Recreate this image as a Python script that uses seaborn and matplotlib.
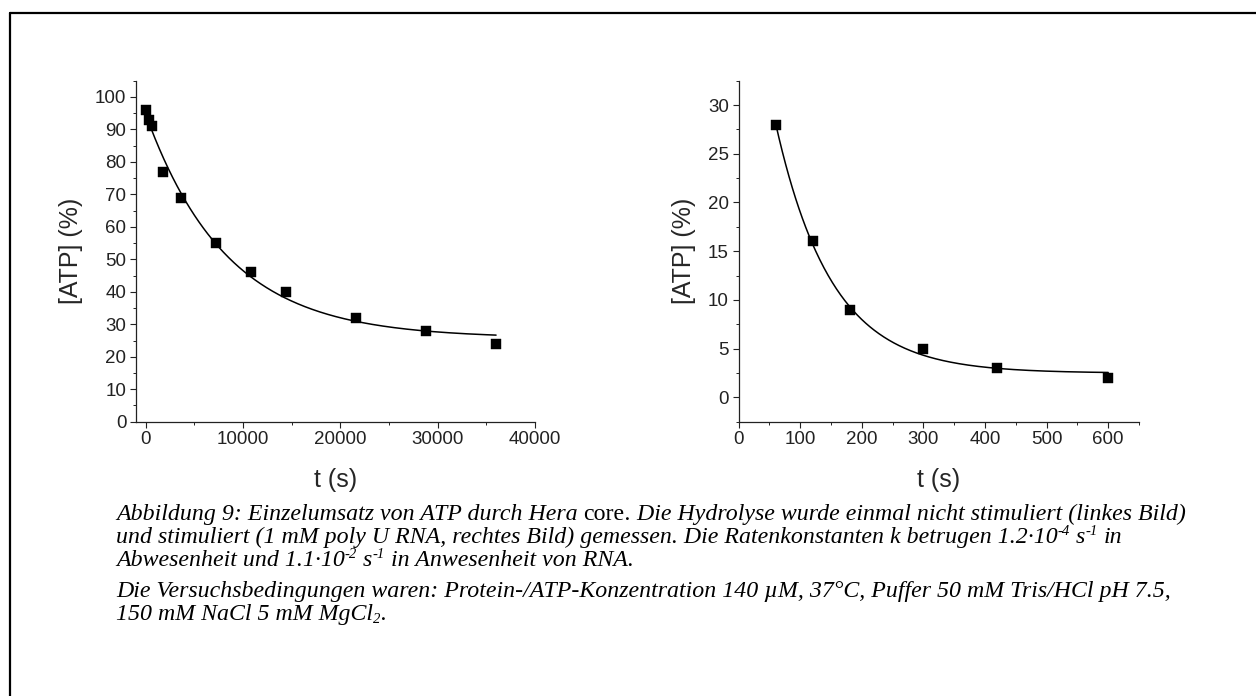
import numpy as np
import pandas as pd
import matplotlib
matplotlib.use("Agg")
import matplotlib.pyplot as plt
import seaborn as sns
from matplotlib.font_manager import FontProperties
from matplotlib.lines import Line2D
from matplotlib.ticker import MultipleLocator

# ---------------- data ----------------
t_left = [60, 300, 600, 1800, 3600, 7200, 10800, 14400, 21600, 28800, 36000]
atp_left = [96, 93, 91, 77, 69, 55, 46, 40, 32, 28, 24]
t_right = [60, 120, 180, 300, 420, 600]
atp_right = [28, 16, 9, 5, 3, 2]
k_left = 1.2e-4    # s^-1 (from caption)
k_right = 1.1e-2   # s^-1 (from caption)

xlabel = "t (s)"
ylabel = "[ATP] (%)"

W, H, DPI = 1256, 696, 100

sns.set_style("ticks")
plt.rcParams["font.family"] = ["Liberation Sans", "DejaVu Sans"]
plt.rcParams["axes.edgecolor"] = "#222222"
plt.rcParams["xtick.color"] = "#222222"
plt.rcParams["ytick.color"] = "#222222"
plt.rcParams["text.color"] = "#111111"

fig = plt.figure(figsize=(W / DPI, H / DPI), dpi=DPI)
fig.patch.set_facecolor("white")


def fit_curve(t, y, k):
    t = np.asarray(t, float)
    y = np.asarray(y, float)
    M = np.column_stack([np.exp(-k * t), np.ones_like(t)])
    (A, C), *_ = np.linalg.lstsq(M, y, rcond=None)
    tt = np.linspace(t.min(), t.max(), 400)
    return tt, A * np.exp(-k * tt) + C


def px_axes(x0, x1, ytop, ybot):
    return [x0 / W, 1 - ybot / H, (x1 - x0) / W, (ybot - ytop) / H]


def style_axes(ax, xlim, ylim, xmaj, xmin, ymaj, ymin):
    ax.set_xlim(*xlim)
    ax.set_ylim(*ylim)
    ax.xaxis.set_major_locator(MultipleLocator(xmaj))
    ax.xaxis.set_minor_locator(MultipleLocator(xmin))
    ax.yaxis.set_major_locator(MultipleLocator(ymaj))
    ax.yaxis.set_minor_locator(MultipleLocator(ymin))
    ax.tick_params(which="major", direction="out", length=4, width=0.8,
                   labelsize=13.5, pad=3)
    ax.tick_params(which="minor", direction="out", length=2.4, width=0.7)
    for s in ("top", "right"):
        ax.spines[s].set_visible(False)
    for s in ("left", "bottom"):
        ax.spines[s].set_linewidth(0.9)
    ax.set_xlabel(xlabel, fontsize=18, labelpad=14)
    ax.set_ylabel(ylabel, fontsize=18, labelpad=8.5)
    ax.set_facecolor("white")


panels = [
    (t_left, atp_left, k_left, px_axes(136, 535, 80.7, 421.7),
     (-1000, 40000), (0, 105), 10000, 5000, 10, 5),
    (t_right, atp_right, k_right, px_axes(738.7, 1139, 80.7, 421.7),
     (0, 650), (-2.5, 32.5), 100, 50, 5, 2.5),
]

for t, y, k, rect, xl, yl, xM, xm, yM, ym in panels:
    ax = fig.add_axes(rect)
    tt, yy = fit_curve(t, y, k)
    sns.lineplot(x=tt, y=yy, ax=ax, color="black", linewidth=1.1, zorder=2)
    df = pd.DataFrame({"t": t, "atp": y})
    sns.scatterplot(data=df, x="t", y="atp", ax=ax, marker="s", s=55,
                    color="black", edgecolor="black", linewidth=0.3, zorder=3)
    style_axes(ax, xl, yl, xM, xm, yM, ym)

# ---------------- frame ----------------
lw_frame = 1.6
fig.add_artist(Line2D([10 / W, 10 / W], [0, 1 - 13 / H], transform=fig.transFigure,
                      color="black", linewidth=lw_frame))
fig.add_artist(Line2D([10 / W, 1], [1 - 13 / H, 1 - 13 / H], transform=fig.transFigure,
                      color="black", linewidth=lw_frame))

# ---------------- caption ----------------
caption_lines = [
    [("Abbildung 9: Einzelumsatz von ATP durch Hera ", "italic", "n"),
     ("core", "normal", "n"),
     (". Die Hydrolyse wurde einmal nicht stimuliert (linkes Bild)", "italic", "n")],
    [("und stimuliert (1 mM poly U RNA, rechtes Bild) gemessen. Die Ratenkonstanten k betrugen 1.2·10", "italic", "n"),
     ("-4", "italic", "sup"), (" s", "italic", "n"), ("-1", "italic", "sup"),
     (" in", "italic", "n")],
    [("Abwesenheit und 1.1·10", "italic", "n"), ("-2", "italic", "sup"),
     (" s", "italic", "n"), ("-1", "italic", "sup"),
     (" in Anwesenheit von RNA.", "italic", "n")],
    [("Die Versuchsbedingungen waren: Protein-/ATP-Konzentration 140 µM, 37°C, Puffer 50 mM Tris/HCl pH 7.5,", "italic", "n")],
    [("150 mM NaCl 5 mM MgCl", "italic", "n"), ("2", "italic", "sub"), (".", "italic", "n")],
]
baselines = [520, 543, 566, 597, 620]
x_start = 116
target_w1 = 1070

renderer = fig.canvas.get_renderer()


def fp_of(style, size):
    return FontProperties(family="Liberation Serif", style=style, size=size)


def text_w(s, style, size):
    if not s:
        return 0.0
    w, h, d = renderer.get_text_width_height_descent(s, fp_of(style, size), ismath=False)
    return w


def space_w(style, size):
    return text_w("a a", style, size) - text_w("aa", style, size)


def layout(runs, size, draw=False, ybase=0.0):
    x = x_start
    for s, style, kind in runs:
        sz = size * (0.62 if kind in ("sup", "sub") else 1.0)
        lead = len(s) - len(s.lstrip(" "))
        trail = len(s) - len(s.rstrip(" "))
        core = s.strip(" ")
        sw = space_w(style, sz)
        x += lead * sw
        if draw and core:
            dy = 0.0
            if kind == "sup":
                dy = -size * DPI / 72 * 0.34
            elif kind == "sub":
                dy = size * DPI / 72 * 0.12
            fig.text(x / W, 1 - (ybase + dy) / H, core, fontproperties=fp_of(style, sz),
                     ha="left", va="baseline", color="black")
        x += text_w(core, style, sz)
        x += trail * sw
    return x - x_start


base_size = 14.0
w1 = layout(caption_lines[0], base_size)
cap_size = base_size * target_w1 / w1

for runs, yb in zip(caption_lines, baselines):
    layout(runs, cap_size, draw=True, ybase=yb)

fig.savefig("out.png", dpi=DPI, facecolor="white")
